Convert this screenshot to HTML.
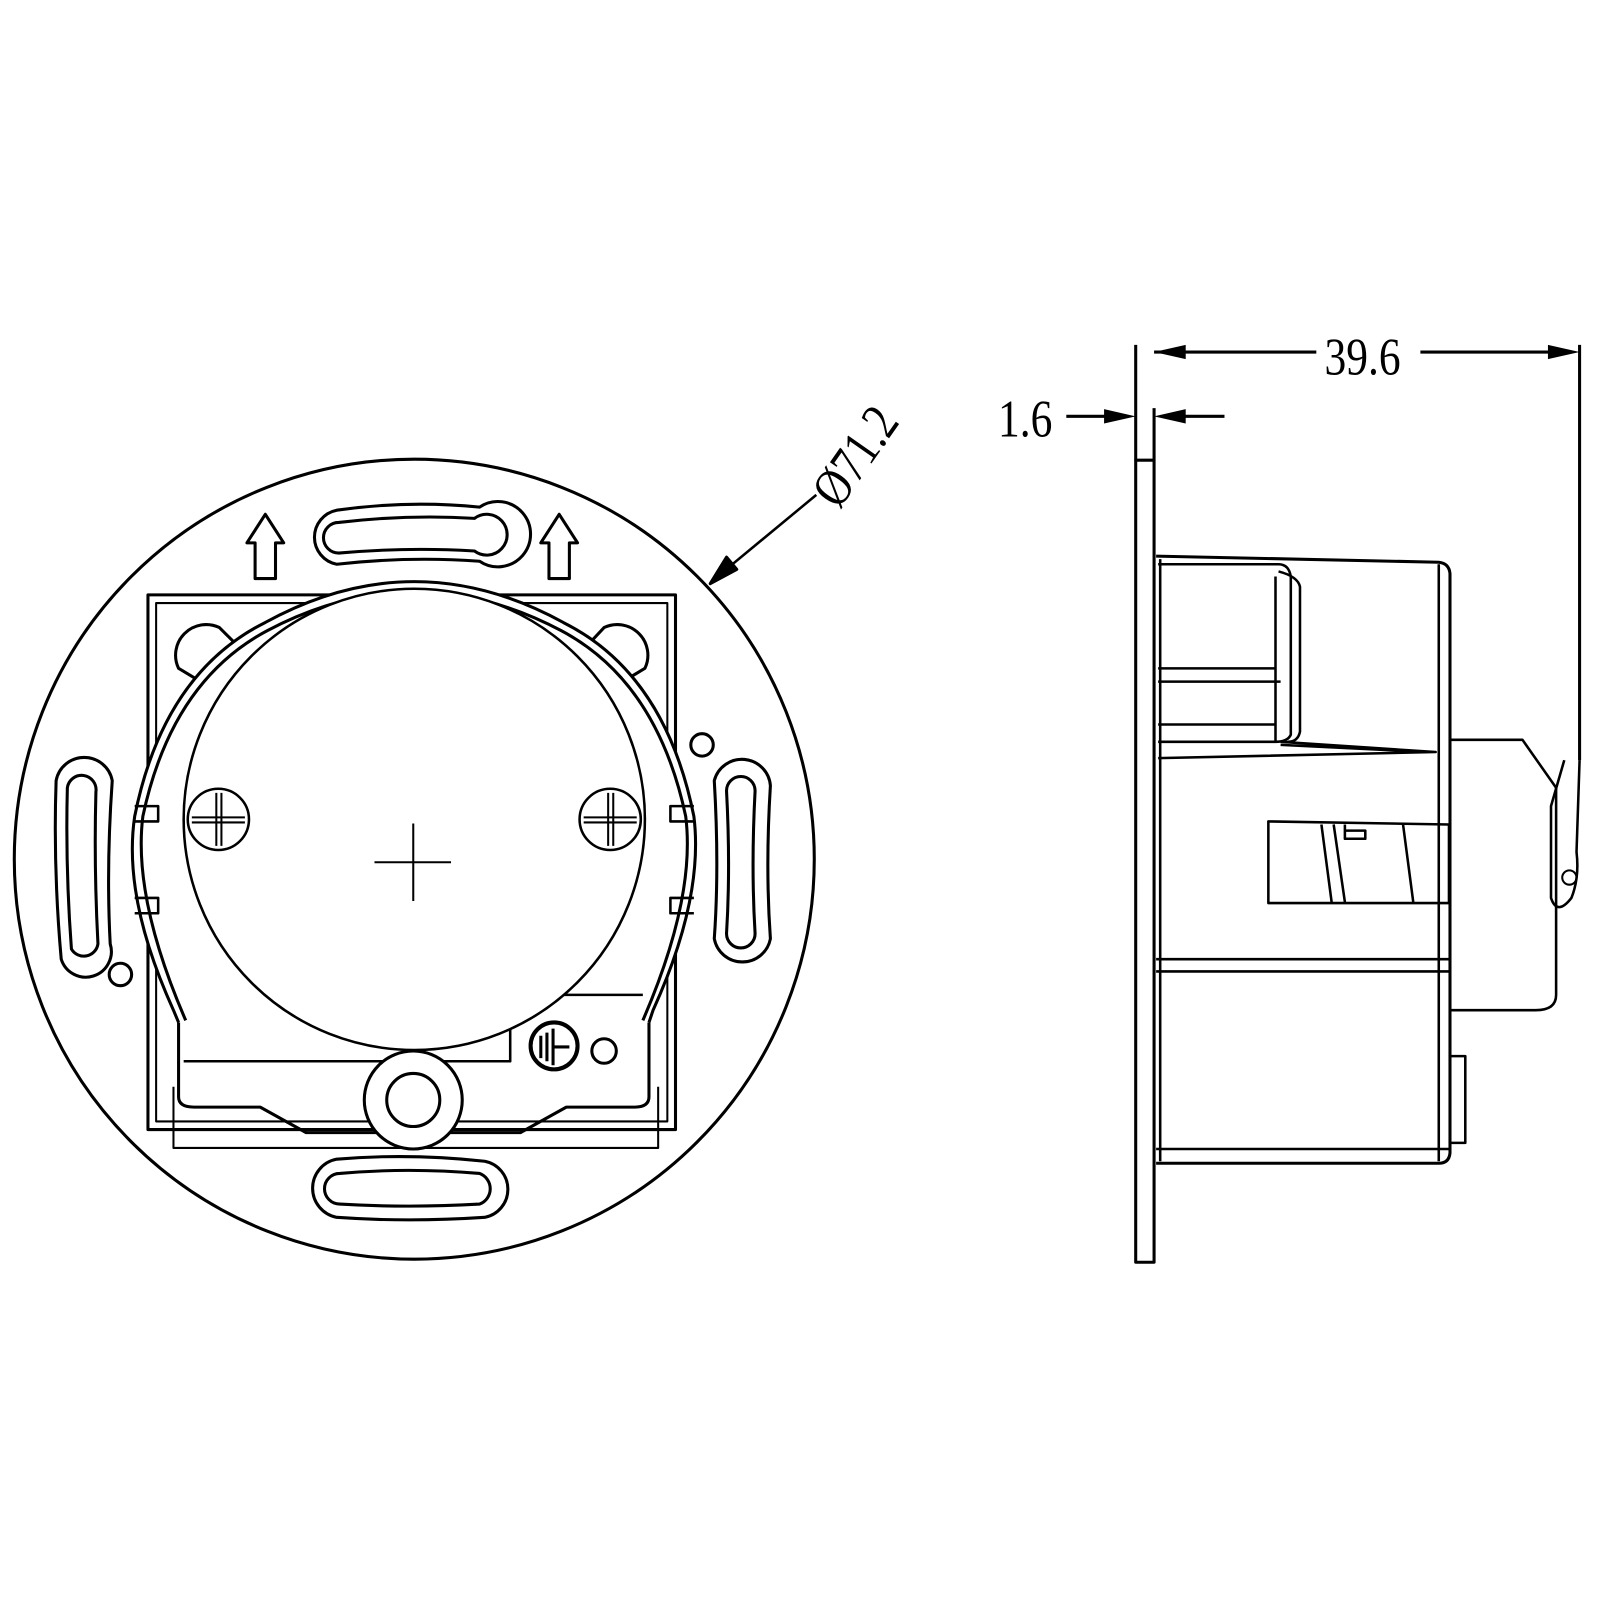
<!DOCTYPE html>
<html><head><style>body{margin:0;background:#fff}svg{display:block}</style></head><body>
<svg width="1600" height="1601" viewBox="0 0 1600 1601" xmlns="http://www.w3.org/2000/svg" fill="none" stroke="#000" stroke-width="3" stroke-linejoin="round">
<g transform="scale(1.0204)">
<!-- Left view -->
<circle cx="406" cy="842" r="392"/>
<rect x="145" y="583" width="517" height="524"/>
<rect x="153" y="591" width="501" height="508" stroke-width="2"/>
<path d="M330 500 Q400 490 470 497 A32 32 0 1 1 470 550 Q400 545 330 553 A27 27 0 0 1 330 500Z" fill="#fff"/>
<path d="M332 512 Q400 504 465 508 A20 20 0 1 1 465 540 Q400 536 332 542 A15 15 0 0 1 332 512Z"/>
<path d="M330 1136 Q400 1130 475 1138 A28 28 0 0 1 475 1193 Q400 1198 330 1193 A29 29 0 0 1 330 1136Z" fill="#fff"/>
<path d="M333 1150 Q400 1144 470 1150 A16 16 0 0 1 470 1180 Q400 1184 333 1180 A15 15 0 0 1 333 1150Z"/>
<path d="M55 765 A28 28 0 0 1 110 765 Q104 850 108 925 A25 25 0 0 1 60 940 Q52 850 55 765Z" fill="#fff"/>
<path d="M66 772 A14 14 0 0 1 94 776 Q92 850 96 925 A14 14 0 0 1 70 930 Q64 850 66 772Z"/>
<path d="M700 765 A28 28 0 0 1 755 770 Q750 850 755 920 A28 28 0 0 1 700 920 Q705 850 700 765Z" fill="#fff"/>
<path d="M712 775 A14 14 0 0 1 740 775 Q736 850 740 915 A14 14 0 0 1 712 915 Q716 850 712 775Z"/>
<path d="M250 567 V532 H242 L260 504 L278 532 H270 V567Z"/>
<path d="M538 567 V532 H530 L548 504 L566 532 H558 V567Z"/>
<circle cx="118" cy="955" r="11"/>
<circle cx="688" cy="730" r="11"/>
<circle cx="592" cy="1030" r="12"/>
<path d="M175 655 A30 30 0 0 1 215 615 L230 630 L225 660 L200 670Z" fill="#fff"/>
<path d="M632 655 A30 30 0 0 0 592 615 L578 630 L582 660 L607 670Z" fill="#fff"/>
<path d="M175 1002 L170 990 Q120 880 132 800 Q160 660 260 610 Q406 530 552 610 Q652 660 680 800 Q690 880 640 990 L636 1002" fill="#fff"/>
<path d="M182 1000 Q130 880 140 800 Q168 668 262 618 Q406 542 550 618 Q644 668 672 800 Q682 880 630 1000"/>
<path d="M175 1002 V1075 Q175 1085 190 1085 H255 L300 1110 H510 L555 1085 H622 Q636 1085 636 1075 V1002"/>
<path d="M170 1065 V1125 H645 V1065" stroke-width="2"/>
<path d="M132 790 H155 V805 H132 M132 880 H155 V895 H132" stroke-width="2.5"/>
<path d="M680 790 H657 V805 H680 M680 880 H657 V895 H680" stroke-width="2.5"/>
<path d="M180 1040 H500 V975 H630" stroke-width="2.5"/>
<circle cx="406" cy="803" r="226" fill="#fff" stroke-width="2.5"/>
<g stroke-width="2.5"><circle cx="214" cy="803" r="30" fill="#fff"/><path d="M188 801H240M188 806H240M212 777V829M217 777V829" stroke-width="2"/></g>
<g stroke-width="2.5"><circle cx="598" cy="803" r="30" fill="#fff"/><path d="M572 801H624M572 806H624M596 777V829M601 777V829" stroke-width="2"/></g>
<path d="M367 845H442M405 807V883" stroke-width="2"/>
<circle cx="543" cy="1025" r="23" stroke-width="4"/>
<path d="M530 1015V1037M536 1012V1040M542 1008V1044M542 1026H558" stroke-width="3"/>
<circle cx="405" cy="1078" r="48" fill="#fff"/>
<circle cx="405" cy="1078" r="26"/>
<path d="M800 485 L702 566" stroke-width="2.5"/>
<path d="M696 572 L712 546 L722 558Z" fill="#000"/>
<text transform="translate(822,500) rotate(-55) scale(0.82,1)" font-family="Liberation Serif, serif" font-size="52" fill="#000" stroke="none">Ø71.2</text>

<!-- Side view -->
<rect x="1113" y="451" width="18" height="786" stroke-width="3"/>
<path d="M1113 451 V338 M1131 451 V400 M1548 338 V745" stroke-width="3"/>
<path d="M1131 345 H1290 M1392 345 H1518" stroke-width="3"/>
<path d="M1131 345 L1162 338 V352Z M1548 345 L1517 338 V352Z" fill="#000" stroke="none"/>
<text transform="translate(1298,367) scale(0.82,1)" font-family="Liberation Serif, serif" font-size="52" fill="#000" stroke="none">39.6</text>
<path d="M1045 408 H1090 M1140 408 H1200" stroke-width="3"/>
<path d="M1113 408 L1082 401 V415Z M1131 408 L1162 401 V415Z" fill="#000" stroke="none"/>
<text transform="translate(978,428) scale(0.82,1)" font-family="Liberation Serif, serif" font-size="52" fill="#000" stroke="none">1.6</text>
<path d="M1133 545 L1410 551 Q1420 552 1421 562 V1130 Q1420 1140 1410 1140 H1133" stroke-width="3"/>
<path d="M1410 553 V1138" stroke-width="2.5"/>
<path d="M1137 548 V1138" stroke-width="2.5"/>
<path d="M1135 553 H1253 Q1263 553 1265 565 V720 Q1262 727 1250 727 H1135" stroke-width="2.5"/>
<path d="M1253 560 Q1272 565 1274 575 V717 Q1272 727 1262 727" stroke-width="2.5"/>
<path d="M1250 565 V727" stroke-width="2.5"/>
<path d="M1135 655 H1250 M1135 668 H1255 M1135 710 H1250" stroke-width="2.5"/>
<path d="M1255 727 L1407 737 L1135 743 M1255 730 L1400 737" stroke-width="2.5"/>
<path d="M1243 805 L1420 808 V885 H1243 Z" stroke-width="2.5"/>
<path d="M1295 808 L1305 884 M1307 808 L1318 884 M1375 808 L1385 884 M1318 808 V822 H1338 V814 H1318" stroke-width="2.5"/>
<path d="M1133 940 H1420 M1133 952 H1420 M1133 1126 H1420" stroke-width="2.5"/>
<path d="M1421 725 H1492 L1525 772 V975 Q1525 990 1505 990 H1421" stroke-width="2.5"/>
<path d="M1533 745 L1520 790 V880 Q1526 898 1540 880 Q1548 860 1545 835 L1548 745" stroke-width="2.5"/>
<circle cx="1538" cy="860" r="7" stroke-width="2"/>
<path d="M1421 1035 H1436 V1120 H1421" stroke-width="2.5"/>
</g>
</svg>
</body></html>
